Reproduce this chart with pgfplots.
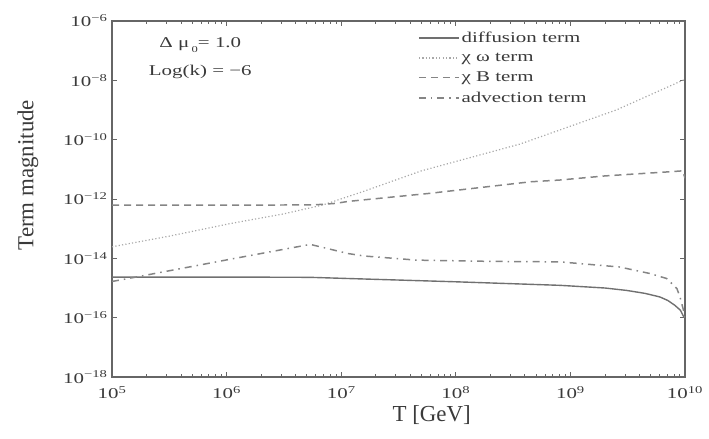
\documentclass[border=0pt]{standalone}
\usepackage{fontspec}
\setmainfont{Liberation Serif}
\newfontfamily\wide{Liberation Serif}[FakeStretch=1.4]
\usepackage{pgfplots}
\pgfplotsset{compat=1.18}
\definecolor{frame}{HTML}{666666}
\definecolor{txt}{HTML}{3A3A3A}
\definecolor{ln}{HTML}{707070}
\definecolor{lnd}{HTML}{858585}
\definecolor{lndot}{HTML}{A8A8A8}
\newcommand{\tickf}{\fontsize{15}{17}\selectfont\wide}
\newcommand{\lblf}{\fontsize{23}{26}\selectfont}
\begin{document}
\begin{tikzpicture}
\useasboundingbox (-112bp,-62bp) rectangle (597bp,377bp);
\begin{axis}[
  at={(0,0)}, anchor=south west,
  scale only axis, width=573bp, height=356bp,
  xmode=log, ymode=log,
  xmin=1e5, xmax=1e10, ymin=1e-18, ymax=1e-6,
  xtick={1e5,1e6,1e7,1e8,1e9,1e10},
  xticklabels={10\textsuperscript{5},10\textsuperscript{6},10\textsuperscript{7},10\textsuperscript{8},10\textsuperscript{9},10\textsuperscript{10}},
  ytick={1e-18,1e-16,1e-14,1e-12,1e-10,1e-8,1e-6},
  yticklabels={10\textsuperscript{−18},10\textsuperscript{−16},10\textsuperscript{−14},10\textsuperscript{−12},10\textsuperscript{−10},10\textsuperscript{−8},10\textsuperscript{−6}},
  yminorticks=false,
  tick align=inside,
  major tick length=5bp, minor tick length=3bp,
  every tick/.style={frame, line width=0.8pt},
  axis line style={frame, line width=1.2pt},
  ticklabel style={font=\tickf, text=txt},
  xticklabel style={yshift=-6bp},
  yticklabel style={xshift=-1bp},
  xlabel={T [GeV]}, ylabel={Term magnitude},
  label style={font=\lblf, text=txt},
  xlabel style={at={(axis description cs:0.558,0)}, anchor=base, yshift=-44bp},
  ylabel style={at={(axis description cs:-0.1466,0.567)}, anchor=center},
  legend style={draw=none, fill=none, font=\tickf, text=txt,
    at={(axis description cs:0.534,0.975)}, anchor=north west,
    row sep=5bp, inner sep=0pt},
  legend cell align=left,
  legend image code/.code={\draw[#1] (0bp,0bp) -- (40bp,0bp);},
]
\addplot[ln, line width=1.4pt] coordinates {
(1e5,2.34e-15) (1e6,2.34e-15) (5.37e6,2.29e-15) (1.15e7,2.09e-15)
(1e8,1.62e-15) (8.13e8,1.23e-15) (2.0e9,1.0e-15) (3.09e9,8.3e-16)
(4.47e9,6.6e-16) (6.03e9,5.0e-16) (7.08e9,3.8e-16) (8.13e9,2.63e-16)
(9.12e9,1.78e-16) (9.77e9,1.05e-16) (1e10,1.0e-16)};
\addlegendentry{diffusion term}
\addplot[lndot, line width=1.2pt, dash pattern=on 1.2pt off 2.2pt] coordinates {
(1e5,2.45e-14) (3.16e5,5.6e-14) (1.07e6,1.48e-13) (3.16e6,3.16e-13)
(6.92e6,6.3e-13) (1.55e7,1.78e-12) (5.01e7,8.9e-12) (3.63e8,7.1e-11)
(2.51e9,1.0e-9) (9.55e9,1.0e-8) (1e10,1.07e-8)};
\addlegendentry{χ ω term}
\addplot[lnd, line width=1.5pt, dash pattern=on 7bp off 5bp] coordinates {
(1e5,6.17e-13) (5.62e6,6.3e-13) (8.9e6,7.1e-13) (1.15e7,8.3e-13)
(5.9e7,1.55e-12) (4.47e8,3.8e-12) (8.13e8,4.37e-12) (2.0e9,6.0e-12)
(7.41e9,8.3e-12) (9.55e9,8.9e-12) (1e10,5.0e-12)};
\addlegendentry{χ B term}
\addplot[lnd, line width=1.5pt, dash pattern=on 7bp off 5bp on 1.5bp off 5bp] coordinates {
(1e5,1.66e-15) (1.26e5,1.95e-15) (1.15e6,9.8e-15) (5.37e6,2.95e-14)
(1.15e7,1.45e-14) (1.58e7,1.2e-14) (4.57e7,8.7e-15) (2.0e8,7.9e-15)
(8.13e8,7.6e-15) (2.69e9,5.1e-15) (4.9e9,3.1e-15) (6.92e9,2.09e-15)
(8.51e9,9.5e-16) (9.12e9,4.4e-16) (9.77e9,1.6e-16) (1e10,1.0e-16)};
\addlegendentry{advection term}
\node[font=\tickf, text=txt] at (axis description cs:0.154,0.933) {Δ μ\raisebox{-5bp}{\,\small 0}= 1.0};
\node[font=\tickf, text=txt] at (axis description cs:0.154,0.857) {Log(k) = −6};
\end{axis}
\end{tikzpicture}
\end{document}
